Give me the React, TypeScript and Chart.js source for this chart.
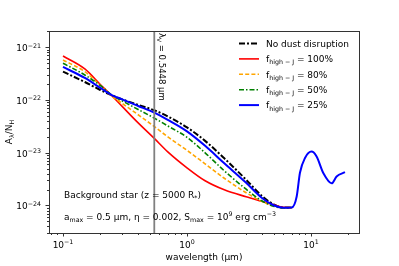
import React, { useEffect, useRef } from "react";
import { Chart, registerables } from "chart.js";
Chart.register(...registerables);

// ---- data ----
const wavelengths = [0.1, 0.15, 0.2, 0.25, 0.3, 0.4, 0.55, 0.7, 1.0, 1.4, 2, 3, 4, 5, 6, 7];
const noDisruption = [3.45e-22, 2.2e-22, 1.55e-22, 1.22e-22, 1.03e-22, 8.15e-23, 6.35e-23, 4.89e-23, 3.03e-23, 1.68e-23, 7.83e-24, 3.07e-24, 1.53e-24, 1.05e-24, 9.12e-25, 9.12e-25];
const fHigh100 = [6.84e-22, 3.88e-22, 1.97e-22, 1.18e-22, 7.57e-23, 3.77e-23, 1.83e-23, 1.04e-23, 5.18e-24, 2.94e-24, 1.98e-24, 1.46e-24, 1.2e-24, 1.03e-24, 9.25e-25, 9.04e-25];
const fHigh80 = [5.75e-22, 3.45e-22, 1.89e-22, 1.17e-22, 8.62e-23, 5.34e-23, 3.09e-23, 2.0e-23, 1.11e-23, 6.16e-24, 3.28e-24, 1.74e-24, 1.2e-24, 9.87e-25, 9.04e-25, 9.12e-25];
const fHigh50 = [4.98e-22, 2.99e-22, 1.89e-22, 1.22e-22, 9.62e-23, 6.7e-23, 4.48e-23, 3.23e-23, 1.96e-23, 9.96e-24, 4.54e-24, 2.03e-24, 1.23e-24, 9.66e-25, 8.97e-25, 9.12e-25];
const fHigh25 = [4.24e-22, 2.62e-22, 1.7e-22, 1.22e-22, 1.03e-22, 7.8e-23, 5.7e-23, 4.2e-23, 2.54e-23, 1.35e-23, 6.3e-24, 2.69e-24, 1.4e-24, 1.01e-24, 9.04e-25, 9.16e-25];
const irWavelengths = [7.67, 8.15, 8.95, 10.1, 11.1, 12.6, 14.7, 16.1, 18.8];
const fHigh25IR = [1.48e-24, 4.17e-24, 7.94e-24, 1.05e-23, 8.5e-24, 4.07e-24, 2.63e-24, 3.55e-24, 4.27e-24];
const lambdaV = 0.5448;
const xRange = [0.0771, 24.4];
const yRange = [3.0e-25, 2.04e-21];
const xDecades = [-2, -1, 0, 1];
const yDecades = [-25, -24, -23, -22, -21];
const xLabelExps = [-1, 0, 1];
const yLabelExps = [-24, -23, -22, -21];
const legendLabels = ["No dust disruption", "100%", "80%", "50%", "25%"];

// ---- styles ----
const FONT = '"DejaVu Sans", sans-serif';
const styles = [
  { color: "#000000", width: 2, dash: [6, 2, 2, 2] },
  { color: "#ff0000", width: 1.6, dash: [] },
  { color: "#ffa500", width: 1.6, dash: [4, 2.2] },
  { color: "#008000", width: 1.6, dash: [5, 2, 1.5, 2] },
  { color: "#0000ff", width: 2, dash: [] },
];

type Seg = { t: string; sub?: boolean; sup?: boolean };

function segFont(seg: Seg, size: number) {
  const fs = seg.sub || seg.sup ? size * 0.7 : size;
  return `${fs}px ${FONT}`;
}
function measureRich(ctx: CanvasRenderingContext2D, segs: Seg[], size: number) {
  let w = 0;
  for (const s of segs) {
    ctx.font = segFont(s, size);
    w += ctx.measureText(s.t).width;
  }
  return w;
}
function drawRich(ctx: CanvasRenderingContext2D, segs: Seg[], x: number, y: number, size: number, align: "left" | "center" | "right" = "left") {
  const w = measureRich(ctx, segs, size);
  let cx = align === "center" ? x - w / 2 : align === "right" ? x - w : x;
  ctx.textAlign = "left";
  ctx.textBaseline = "alphabetic";
  for (const s of segs) {
    ctx.font = segFont(s, size);
    const dy = s.sub ? size * 0.25 : s.sup ? -size * 0.42 : 0;
    ctx.fillText(s.t, cx, y + dy);
    cx += ctx.measureText(s.t).width;
  }
}

const pts = (xs: number[], ys: number[]) => xs.map((x, i) => ({ x, y: ys[i] }));

const decoPlugin = {
  id: "deco",
  afterDraw(chart: any) {
    const { ctx, chartArea: a, scales } = chart;
    const xs = scales.x;
    const ys = scales.y;
    ctx.save();
    ctx.fillStyle = "#000";
    ctx.strokeStyle = "#333";
    ctx.lineWidth = 1;
    ctx.setLineDash([]);
    // frame
    ctx.strokeRect(Math.round(a.left) + 0.5, Math.round(a.top) + 0.5, Math.round(a.right - a.left), Math.round(a.bottom - a.top));
    // ticks
    ctx.beginPath();
    for (const e of xDecades) {
      for (let m = 1; m <= 9; m++) {
        const v = m * Math.pow(10, e);
        if (v < xRange[0] || v > xRange[1]) continue;
        const px = Math.round(xs.getPixelForValue(v)) + 0.5;
        const len = m === 1 ? 3.5 : 2;
        ctx.moveTo(px, a.bottom);
        ctx.lineTo(px, a.bottom + len);
      }
    }
    for (const e of yDecades) {
      for (let m = 1; m <= 9; m++) {
        const v = m * Math.pow(10, e);
        if (v < yRange[0] || v > yRange[1]) continue;
        const py = Math.round(ys.getPixelForValue(v)) + 0.5;
        const len = m === 1 ? 3.5 : 2;
        ctx.moveTo(a.left, py);
        ctx.lineTo(a.left - len, py);
      }
    }
    ctx.stroke();
    // tick labels
    ctx.fillStyle = "#000";
    for (const e of xLabelExps) {
      const px = xs.getPixelForValue(Math.pow(10, e));
      drawRich(ctx, [{ t: "10" }, { t: e < 0 ? "\u2212" + Math.abs(e) : String(e), sup: true }], px, a.bottom + 15, 9, "center");
    }
    for (const e of yLabelExps) {
      const py = ys.getPixelForValue(Math.pow(10, e));
      drawRich(ctx, [{ t: "10" }, { t: "\u2212" + Math.abs(e), sup: true }], a.left - 8, py + 4, 9, "right");
    }
    // axis titles
    ctx.font = `9px ${FONT}`;
    ctx.textAlign = "center";
    ctx.textBaseline = "alphabetic";
    ctx.fillText("wavelength (\u03bcm)", (a.left + a.right) / 2, 260);
    ctx.save();
    ctx.translate(12, (a.top + a.bottom) / 2);
    ctx.rotate(-Math.PI / 2);
    drawRich(ctx, [{ t: "A" }, { t: "\u03bb", sub: true }, { t: "/N" }, { t: "H", sub: true }], 0, 0, 9, "center");
    ctx.restore();
    // vertical line annotation
    ctx.save();
    const lx = xs.getPixelForValue(lambdaV);
    ctx.translate(lx + 5, a.top + 2);
    ctx.rotate(Math.PI / 2);
    drawRich(ctx, [{ t: "\u03bb" }, { t: "V", sub: true }, { t: " = 0.5448 \u03bcm" }], 0, 0, 8.5, "left");
    ctx.restore();
    // annotations
    drawRich(ctx, [{ t: "Background star (z = 5000 R" }, { t: "*", sub: true }, { t: ")" }], a.left + 15, 198, 9);
    drawRich(ctx, [
      { t: "a" }, { t: "max", sub: true }, { t: " = 0.5 \u03bcm, \u03b7 = 0.002, S" }, { t: "max", sub: true },
      { t: " = 10" }, { t: "9", sup: true }, { t: " erg cm" }, { t: "\u22123", sup: true },
    ], a.left + 15, 220, 9);
    // legend
    const lx0 = 239, lx1 = 259, tx = 266;
    for (let i = 0; i < legendLabels.length; i++) {
      const cy = 43.5 + i * 15.4;
      const st = styles[i];
      ctx.strokeStyle = st.color;
      ctx.lineWidth = st.width;
      ctx.setLineDash(st.dash);
      ctx.beginPath();
      ctx.moveTo(lx0, cy);
      ctx.lineTo(lx1, cy);
      ctx.stroke();
      ctx.setLineDash([]);
      ctx.fillStyle = "#000";
      if (i === 0) drawRich(ctx, [{ t: legendLabels[0] }], tx, cy + 3.2, 9);
      else drawRich(ctx, [{ t: "f" }, { t: "high \u2212 J", sub: true }, { t: " = " + legendLabels[i] }], tx, cy + 3.2, 9);
    }
    ctx.restore();
  },
};

export default function App() {
  const ref = useRef<HTMLCanvasElement>(null);
  useEffect(() => {
    const canvas = ref.current!;
    const series = [
      { d: pts(wavelengths, noDisruption), s: styles[0], order: 5 },
      { d: pts(wavelengths, fHigh100), s: styles[1], order: 4 },
      { d: pts(wavelengths, fHigh80), s: styles[2], order: 3 },
      { d: pts(wavelengths, fHigh50), s: styles[3], order: 2 },
      { d: pts([...wavelengths, ...irWavelengths], [...fHigh25, ...fHigh25IR]), s: styles[4], order: 1 },
    ];
    const chart = new Chart(canvas, {
      type: "line",
      data: {
        datasets: [
          ...series.map((r, i) => ({
            label: legendLabels[i],
            data: r.d,
            borderColor: r.s.color,
            borderWidth: r.s.width,
            borderDash: r.s.dash,
            pointRadius: 0,
            cubicInterpolationMode: "monotone" as const,
            fill: false,
            order: r.order,
          })),
          {
            label: "lambdaV",
            data: [{ x: lambdaV, y: yRange[0] }, { x: lambdaV, y: yRange[1] }],
            borderColor: "#808080",
            borderWidth: 1.8,
            pointRadius: 0,
            fill: false,
            order: 0,
          },
        ],
      },
      options: {
        responsive: false,
        maintainAspectRatio: false,
        animation: false,
        devicePixelRatio: 1,
        layout: { padding: { left: 0, top: 31, right: 40, bottom: 0 } },
        plugins: { legend: { display: false }, tooltip: { enabled: false } },
        events: [],
        scales: {
          x: {
            type: "logarithmic",
            min: xRange[0],
            max: xRange[1],
            grid: { display: false },
            border: { display: false },
            ticks: { display: false },
            afterFit: (s: any) => { s.height = 33; },
          },
          y: {
            type: "logarithmic",
            min: yRange[0],
            max: yRange[1],
            grid: { display: false },
            border: { display: false },
            ticks: { display: false },
            afterFit: (s: any) => { s.width = 49; },
          },
        },
      },
      plugins: [decoPlugin],
    } as any);
    return () => chart.destroy();
  }, []);
  return (
    <div style={{ position: "fixed", left: 0, top: 0, width: 399, height: 266, background: "#fff" }}>
      <canvas ref={ref} width={399} height={266} style={{ display: "block", width: 399, height: 266 }} />
    </div>
  );
}
